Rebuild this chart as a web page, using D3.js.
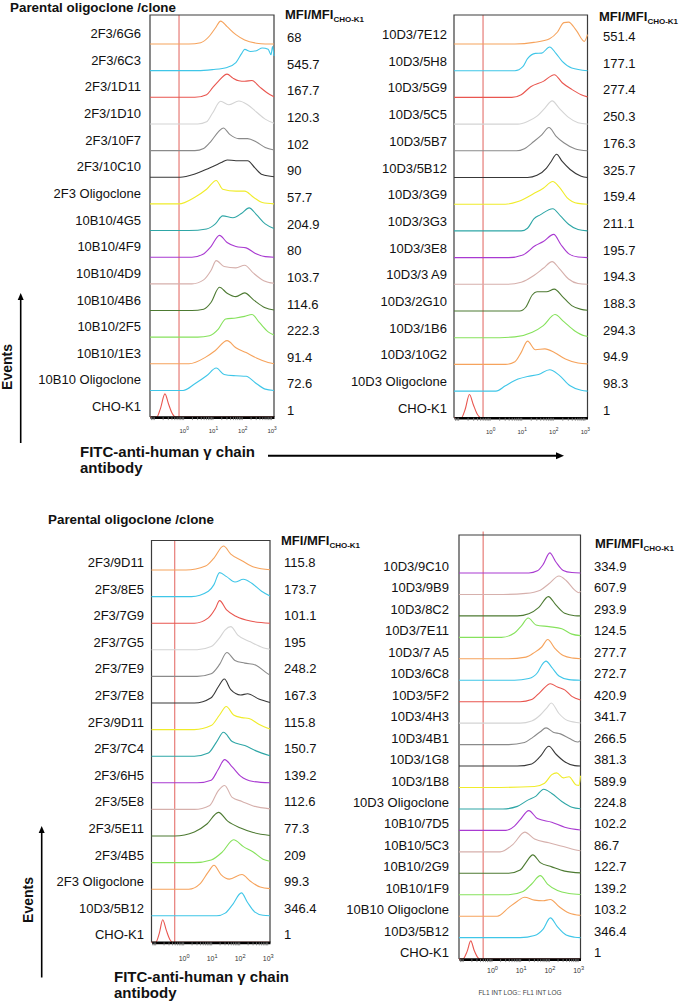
<!DOCTYPE html>
<html><head><meta charset="utf-8">
<script src="https://cdn.jsdelivr.net/npm/d3@7"></script>
<style>body{margin:0;background:#fff}svg{display:block}text{font-family:"Liberation Sans",Arial,sans-serif}</style>
</head><body><svg id="c" width="685" height="1005"></svg>
<script>
// ---------- DATA ----------
// x values are log10(fluorescence), y values are relative event counts
const logDomain = [-1.13, 3.1];
const gateLog = [-0.14, -0.21, -0.30, -0.29];

const labels1 = ["2F3/6G6","2F3/6C3","2F3/1D11","2F3/1D10","2F3/10F7","2F3/10C10","2F3 Oligoclone","10B10/4G5","10B10/4F9","10B10/4D9","10B10/4B6","10B10/2F5","10B10/1E3","10B10 Oligoclone","CHO-K1"];
const mfi1 = [68,545.7,167.7,120.3,102,90,57.7,204.9,80,103.7,114.6,222.3,91.4,72.6,1];
const hist1 = [
[[0.2,0],[0.6,0.05],[0.9,0.3],[1.1,0.6],[1.28,0.86],[1.5,0.65],[1.8,0.35],[2.1,0.15],[2.5,0.03],[2.8,0]],
[[0.5,0],[1.0,0.04],[1.5,0.12],[1.8,0.3],[2.0,0.65],[2.1,0.8],[2.3,0.72],[2.5,0.75],[2.7,0.85],[2.9,0.8],[3.0,0.6],[3.05,0.9],[3.1,0.55]],
[[0.4,0],[0.8,0.1],[1.0,0.35],[1.2,0.6],[1.5,0.87],[1.7,0.72],[1.9,0.62],[2.1,0.6],[2.35,0.63],[2.6,0.4],[2.85,0.18],[3.1,0.02]],
[[0.5,0],[0.8,0.08],[1.0,0.4],[1.28,0.85],[1.55,0.72],[1.9,0.86],[2.2,0.72],[2.5,0.45],[2.8,0.18],[3.1,0.03]],
[[0.4,0],[0.7,0.08],[0.95,0.35],[1.2,0.7],[1.37,0.85],[1.6,0.6],[1.9,0.45],[2.2,0.45],[2.5,0.32],[2.8,0.12],[3.1,0.02]],
[[-0.1,0],[0.4,0.12],[0.9,0.35],[1.3,0.55],[1.5,0.65],[1.8,0.62],[2.2,0.62],[2.45,0.35],[2.7,0.1],[3.1,0.02]],
[[-0.15,0],[0.4,0.25],[0.8,0.55],[1.13,0.88],[1.35,0.55],[1.8,0.48],[2.1,0.48],[2.4,0.25],[2.7,0.05],[3.1,0]],
[[0.2,0],[0.8,0.06],[1.1,0.25],[1.35,0.55],[1.7,0.48],[2.0,0.65],[2.25,0.85],[2.5,0.6],[2.8,0.25],[3.1,0.08]],
[[0.3,0],[0.66,0.1],[0.95,0.4],[1.24,0.82],[1.5,0.55],[1.8,0.4],[2.15,0.35],[2.45,0.15],[2.8,0.02],[3.1,0]],
[[0.3,0],[0.7,0.15],[0.95,0.5],[1.13,0.87],[1.4,0.65],[1.8,0.6],[2.1,0.7],[2.4,0.4],[2.75,0.12],[3.1,0.02]],
[[0.3,0],[0.7,0.05],[0.95,0.3],[1.24,0.87],[1.5,0.65],[1.8,0.52],[2.1,0.66],[2.4,0.4],[2.8,0.1],[3.1,0.02]],
[[0.5,0],[0.9,0.05],[1.2,0.3],[1.45,0.68],[1.8,0.72],[2.1,0.78],[2.35,0.85],[2.6,0.55],[2.9,0.2],[3.1,0.08]],
[[0.2,0],[0.77,0.25],[1.1,0.5],[1.5,0.87],[1.8,0.6],[2.15,0.42],[2.5,0.22],[2.9,0.05],[3.1,0]],
[[0,0],[0.4,0.25],[0.8,0.55],[1.13,0.84],[1.4,0.6],[1.8,0.55],[2.15,0.53],[2.45,0.3],[2.8,0.05],[3.1,0]],
[[-0.9,0],[-0.78,0.3],[-0.62,0.87],[-0.5,0.5],[-0.38,0.15],[-0.25,0]]
];

const labels2 = ["10D3/7E12","10D3/5H8","10D3/5G9","10D3/5C5","10D3/5B7","10D3/5B12","10D3/3G9","10D3/3G3","10D3/3E8","10D3/3 A9","10D3/2G10","10D3/1B6","10D3/10G2","10D3 Oligoclone","CHO-K1"];
const mfi2 = [551.4,177.1,277.4,250.3,176.3,325.7,159.4,211.1,195.7,194.3,188.3,294.3,94.9,98.3,1];
const hist2 = [
[[0.8,0],[1.4,0.06],[1.9,0.2],[2.15,0.45],[2.35,0.8],[2.5,0.82],[2.75,0.5],[3.0,0.1],[3.1,0.35]],
[[0.8,0],[1.05,0.15],[1.2,0.45],[1.45,0.65],[1.65,0.66],[1.9,0.89],[2.1,0.65],[2.3,0.35],[2.6,0.1],[3.1,0]],
[[0.7,0],[1.0,0.1],[1.3,0.4],[1.7,0.6],[2.05,0.85],[2.3,0.55],[2.6,0.3],[2.9,0.1],[3.1,0.02]],
[[0.9,0],[1.2,0.1],[1.5,0.3],[1.75,0.6],[1.98,0.87],[2.2,0.6],[2.5,0.25],[2.8,0.05],[3.1,0]],
[[0.85,0],[1.1,0.08],[1.4,0.35],[1.65,0.6],[1.88,0.87],[2.1,0.55],[2.35,0.3],[2.7,0.08],[3.1,0]],
[[1.2,0],[1.5,0.08],[1.8,0.35],[1.95,0.6],[2.12,0.87],[2.3,0.6],[2.55,0.3],[2.9,0.05],[3.1,0]],
[[0.5,0],[0.9,0.1],[1.4,0.4],[1.7,0.6],[2.0,0.85],[2.2,0.65],[2.45,0.25],[2.8,0.03],[3.1,0]],
[[1.0,0],[1.2,0.1],[1.4,0.45],[1.6,0.6],[2.0,0.83],[2.25,0.55],[2.5,0.25],[2.8,0.05],[3.1,0]],
[[0.6,0],[1.05,0.1],[1.45,0.45],[1.7,0.6],[2.03,0.87],[2.25,0.5],[2.5,0.15],[2.8,0.02],[3.1,0]],
[[0.5,0],[1.0,0.08],[1.4,0.33],[1.7,0.6],[1.98,0.85],[2.2,0.6],[2.5,0.2],[2.8,0.03],[3.1,0]],
[[0.95,0],[1.15,0.15],[1.35,0.6],[1.5,0.72],[1.8,0.72],[2.05,0.82],[2.3,0.55],[2.6,0.2],[2.9,0.06],[3.1,0.03]],
[[0,0],[0.8,0.03],[1.35,0.2],[1.7,0.45],[2.07,0.87],[2.35,0.6],[2.7,0.25],[3.0,0.07],[3.1,0.05]],
[[0.5,0],[0.8,0.1],[1.0,0.45],[1.2,0.87],[1.45,0.55],[1.75,0.58],[2.05,0.45],[2.4,0.2],[2.8,0.05],[3.1,0.02]],
[[0.2,0],[0.5,0.2],[0.9,0.45],[1.2,0.55],[1.55,0.62],[1.9,0.8],[2.2,0.6],[2.55,0.2],[2.9,0.03],[3.1,0]],
[[-0.9,0],[-0.78,0.3],[-0.64,0.87],[-0.52,0.5],[-0.4,0.15],[-0.27,0]]
];

const labels3 = ["2F3/9D11","2F3/8E5","2F3/7G9","2F3/7G5","2F3/7E9","2F3/7E8","2F3/9D11","2F3/7C4","2F3/6H5","2F3/5E8","2F3/5E11","2F3/4B5","2F3 Oligoclone","10D3/5B12","CHO-K1"];
const mfi3 = [115.8,173.7,101.1,195,248.2,167.3,115.8,150.7,139.2,112.6,77.3,209,99.3,346.4,1];
const hist3 = [
[[0.1,0],[0.8,0.15],[1.1,0.45],[1.44,0.9],[1.7,0.6],[2.1,0.35],[2.55,0.1],[3.1,0.01]],
[[0.3,0],[0.9,0.2],[1.1,0.45],[1.3,0.9],[1.55,0.75],[1.85,0.55],[2.15,0.65],[2.45,0.5],[2.8,0.2],[3.1,0.02]],
[[0.4,0],[0.9,0.2],[1.15,0.55],[1.3,0.85],[1.55,0.5],[1.9,0.25],[2.4,0.08],[3.1,0]],
[[0.5,0],[1.0,0.12],[1.3,0.45],[1.5,0.75],[1.7,0.87],[1.95,0.55],[2.4,0.3],[2.85,0.08],[3.1,0.02]],
[[0.5,0],[1.0,0.1],[1.3,0.45],[1.56,0.9],[1.85,0.6],[2.2,0.5],[2.6,0.42],[2.95,0.15],[3.1,0.05]],
[[0.4,0],[1.0,0.2],[1.25,0.6],[1.47,0.9],[1.7,0.5],[2.05,0.3],[2.3,0.35],[2.7,0.15],[3.1,0.02]],
[[0.4,0],[1.0,0.15],[1.3,0.55],[1.54,0.87],[1.8,0.55],[2.1,0.45],[2.35,0.42],[2.7,0.2],[3.1,0.02]],
[[0.4,0],[0.9,0.12],[1.2,0.55],[1.44,0.9],[1.75,0.55],[2.2,0.4],[2.6,0.2],[3.1,0.02]],
[[0.5,0],[1.0,0.1],[1.25,0.5],[1.48,0.87],[1.75,0.6],[2.05,0.25],[2.5,0.05],[3.1,0]],
[[0.4,0],[0.95,0.15],[1.25,0.7],[1.48,0.9],[1.75,0.45],[2.1,0.3],[2.5,0.13],[3.1,0.02]],
[[-0.3,0],[0.4,0.15],[0.85,0.45],[1.26,0.89],[1.6,0.55],[2.05,0.3],[2.5,0.13],[3.1,0.02]],
[[0.4,0],[1.0,0.1],[1.4,0.4],[1.8,0.86],[2.15,0.6],[2.5,0.4],[2.85,0.13],[3.1,0.05]],
[[0.2,0],[0.6,0.2],[0.9,0.65],[1.1,0.9],[1.35,0.55],[1.65,0.38],[2.1,0.55],[2.4,0.3],[2.75,0.08],[3.1,0.02]],
[[1.2,0],[1.5,0.1],[1.75,0.4],[2.08,0.86],[2.3,0.5],[2.55,0.15],[2.85,0.02],[3.1,0]],
[[-0.98,0],[-0.85,0.35],[-0.73,0.85],[-0.6,0.45],[-0.47,0.1],[-0.38,0]]
];

const labels4 = ["10D3/9C10","10D3/9B9","10D3/8C2","10D3/7E11","10D3/7 A5","10D3/6C8","10D3/5F2","10D3/4H3","10D3/4B1","10D3/1G8","10D3/1B8","10D3 Oligoclone","10B10/7D5","10B10/5C3","10B10/2G9","10B10/1F9","10B10 Oligoclone","10D3/5B12","CHO-K1"];
const mfi4 = [334.9,607.9,293.9,124.5,277.7,272.7,420.9,341.7,266.5,381.3,589.9,224.8,102.2,86.7,122.7,139.2,103.2,346.4,1];
const hist4 = [
[[1.3,0],[1.6,0.1],[1.8,0.4],[2.03,0.94],[2.25,0.5],[2.5,0.12],[2.8,0.02],[3.1,0]],
[[0.4,0],[1.2,0.05],[1.7,0.2],[2.0,0.5],[2.35,0.86],[2.6,0.65],[2.9,0.2],[3.05,0.08],[3.1,0.15]],
[[0.9,0],[1.3,0.1],[1.65,0.4],[1.98,0.9],[2.25,0.5],[2.55,0.12],[2.9,0.01],[3.1,0]],
[[0.35,0],[0.8,0.2],[1.05,0.55],[1.28,0.9],[1.55,0.58],[2.0,0.5],[2.45,0.4],[2.8,0.15],[3.1,0.08]],
[[0.5,0],[1.2,0.08],[1.5,0.3],[1.75,0.55],[1.96,0.9],[2.2,0.5],[2.5,0.15],[2.85,0.03],[3.1,0]],
[[0.8,0],[1.3,0.08],[1.6,0.35],[1.75,0.7],[1.9,0.89],[2.1,0.6],[2.35,0.2],[2.7,0.03],[3.1,0]],
[[1.0,0],[1.4,0.1],[1.7,0.45],[2.05,0.84],[2.3,0.68],[2.55,0.55],[2.8,0.25],[3.1,0.08]],
[[1.0,0],[1.4,0.1],[1.7,0.38],[1.95,0.75],[2.08,0.94],[2.35,0.45],[2.65,0.12],[3.1,0.01]],
[[0.6,0],[1.15,0.1],[1.45,0.35],[1.7,0.6],[1.9,0.78],[2.15,0.58],[2.4,0.5],[2.7,0.3],[3.0,0.12],[3.1,0.2]],
[[0.9,0],[1.4,0.1],[1.7,0.45],[2.0,0.92],[2.25,0.55],[2.55,0.2],[2.9,0.02],[3.1,0]],
[[0,0],[1.5,0.05],[1.85,0.2],[2.1,0.6],[2.27,0.68],[2.5,0.45],[2.7,0.5],[2.95,0.12],[3.05,0.1],[3.1,0.55]],
[[0.4,0],[0.9,0.12],[1.25,0.4],[1.55,0.6],[1.82,0.92],[2.1,0.72],[2.45,0.35],[2.8,0.08],[3.1,0.01]],
[[0.5,0],[0.8,0.2],[1.0,0.5],[1.3,0.92],[1.6,0.55],[2.1,0.38],[2.55,0.15],[3.1,0.02]],
[[0.3,0],[0.75,0.35],[1.16,0.92],[1.5,0.6],[2.0,0.42],[2.5,0.25],[2.9,0.1],[3.1,0.05]],
[[0.6,0],[1.0,0.15],[1.2,0.5],[1.44,0.86],[1.7,0.5],[2.1,0.3],[2.55,0.1],[3.1,0.02]],
[[0.6,0],[1.1,0.15],[1.4,0.5],[1.7,0.89],[1.95,0.5],[2.3,0.2],[2.7,0.06],[3.1,0.01]],
[[0.2,0],[0.6,0.4],[0.9,0.7],[1.15,0.88],[1.5,0.75],[1.8,0.72],[2.05,0.78],[2.35,0.45],[2.7,0.15],[3.1,0.04]],
[[1.0,0],[1.5,0.1],[1.8,0.4],[2.05,0.92],[2.3,0.5],[2.6,0.12],[2.9,0.02],[3.1,0]],
[[-1.0,0],[-0.85,0.35],[-0.72,0.85],[-0.6,0.4],[-0.48,0.08],[-0.4,0]]
];
const tickExponents = [0,1,2,3];

// ---------- STYLE ----------
const PALETTE = {or:"#f6a35c", cy:"#3fc6e8", rd:"#e9564f", lg:"#d4d4d4", gy:"#8a8a8a", dk:"#383838",
  ye:"#f0ec2a", te:"#2ea6a6", pu:"#a93ad1", pk:"#d6b0ac", ol:"#4d7a32", gr:"#86e25c"};
const seq15 = ["or","cy","rd","lg","gy","dk","ye","te","pu","pk","ol","gr","or","cy","rd"];
const seq19 = ["pu","pk","ol","gr","or","cy","rd","lg","gy","dk","ye","te","pu","pk","ol","gr","or","cy","rd"];

const svg = d3.select("#c");

const panels = [
 {labels:labels1, mfi:mfi1, hist:hist1, colors:seq15, gate:gateLog[0], left:150, right:274, top:15, base0:44, step:26.65,
  labelX:141, labelDy:-6, mfiX:287, mfiDy:-2, headX:285, headY:18.5, tickDy:16, tickFont:6},
 {labels:labels2, mfi:mfi2, hist:hist2, colors:seq15, gate:gateLog[1], left:454, right:587.5, top:15, base0:44, step:26.7,
  labelX:447, labelDy:-5, mfiX:603, mfiDy:-3, headX:599, headY:20.5, tickDy:16, tickFont:6},
 {labels:labels3, mfi:mfi3, hist:hist3, colors:seq15, gate:gateLog[2], left:151.5, right:270, top:540.5, base0:570, step:26.6,
  labelX:144, labelDy:-3, mfiX:284, mfiDy:-3, headX:281, headY:545, tickDy:19, tickFont:7},
 {labels:labels4, mfi:mfi4, hist:hist4, colors:seq19, gate:gateLog[3], left:459, right:580.5, top:535, gateTop:531.5, base0:573, step:21.45,
  labelX:449, labelDy:-2, mfiX:594, mfiDy:-2, headX:595, headY:548, tickDy:14, tickFont:7}
];

function drawPanel(p) {
  const n = p.labels.length;
  const x = d3.scaleLog().domain([10**logDomain[0], 10**logDomain[1]]).range([p.left, p.right]);
  const base = i => p.base0 + i * p.step;
  const bottom = base(n - 1);
  const g = svg.append("g");

  g.append("line").attr("x1", x(10**p.gate)).attr("x2", x(10**p.gate))
    .attr("y1", p.gateTop ?? p.top).attr("y2", bottom).attr("stroke", "#e2625c").attr("stroke-width", 1);

  g.append("path").attr("d", `M${p.left},${bottom}V${p.top}H${p.right}V${bottom}`)
    .attr("fill", "none").attr("stroke", "#3c3c3c").attr("stroke-width", 1.2);

  p.hist.forEach((pts, i) => {
    const full = [];
    if (pts[0][0] > logDomain[0]) full.push([logDomain[0], 0]);
    full.push(...pts);
    const last = pts[pts.length - 1];
    if (last[0] < logDomain[1]) full.push([logDomain[1], last[1]]);
    const line = d3.line().x(d => x(10**d[0])).y(d => base(i) - d[1] * p.step).curve(d3.curveMonotoneX);
    g.append("path").attr("d", line(full)).attr("fill", "none")
      .attr("stroke", PALETTE[p.colors[i]]).attr("stroke-width", 1.1);

    g.append("text").attr("x", p.labelX).attr("y", base(i) + p.labelDy).attr("text-anchor", "end")
      .attr("font-size", 13).attr("fill", "#111").text(p.labels[i]);
    g.append("text").attr("x", p.mfiX).attr("y", base(i) + p.mfiDy)
      .attr("font-size", 13).attr("fill", "#111").text(String(p.mfi[i]));
  });

  const ticks = x.ticks().filter(v => v >= x.domain()[0] && v <= x.domain()[1]);
  const ax = d3.axisBottom(x).tickValues(ticks).tickSize(3).tickSizeOuter(0).tickFormat("");
  const axg = g.append("g").attr("transform", `translate(0,${bottom})`).call(ax);
  axg.select(".domain").attr("stroke", "#000").attr("stroke-width", 2.6);
  axg.selectAll(".tick line").attr("stroke", "#777").attr("stroke-width", 0.8);

  tickExponents.forEach(k => {
    const t = g.append("text").attr("x", x(10**k) + 1).attr("y", bottom + p.tickDy)
      .attr("text-anchor", "middle").attr("font-size", p.tickFont).attr("fill", "#333");
    t.append("tspan").text("10");
    t.append("tspan").attr("dy", -p.tickFont * 0.5).attr("font-size", p.tickFont * 0.8).text(k);
  });

  const h = g.append("text").attr("x", p.headX).attr("y", p.headY).attr("font-size", 13)
    .attr("font-weight", "bold").attr("fill", "#111");
  h.append("tspan").text("MFI/MFI");
  h.append("tspan").attr("dy", 3).attr("font-size", 8).text("CHO-K1");
}
panels.forEach(drawPanel);

// headers
svg.append("text").attr("x", 10).attr("y", 11.5).attr("font-size", 13.4).attr("font-weight", "bold")
  .attr("fill", "#111").text("Parental oligoclone /clone");
svg.append("text").attr("x", 48).attr("y", 524).attr("font-size", 13.4).attr("font-weight", "bold")
  .attr("fill", "#111").text("Parental oligoclone /clone");

// axis titles and arrows
function arrowV(xp, y0, y1) {
  svg.append("line").attr("x1", xp).attr("x2", xp).attr("y1", y0).attr("y2", y1 + 6)
    .attr("stroke", "#000").attr("stroke-width", 1.6);
  svg.append("path").attr("d", `M${xp},${y1}L${xp - 3},${y1 + 7}L${xp + 3},${y1 + 7}Z`).attr("fill", "#000");
}
arrowV(20.7, 443, 293);
arrowV(41.7, 977.5, 826);
svg.append("line").attr("x1", 268).attr("x2", 558).attr("y1", 455.7).attr("y2", 455.7)
  .attr("stroke", "#000").attr("stroke-width", 2);
svg.append("path").attr("d", "M564,455.7L556,452.2L556,459.2Z").attr("fill", "#000");

svg.append("text").attr("transform", "translate(11.5,367) rotate(-90)").attr("text-anchor", "middle")
  .attr("font-size", 14).attr("font-weight", "bold").attr("fill", "#111").text("Events");
svg.append("text").attr("transform", "translate(33,900) rotate(-90)").attr("text-anchor", "middle")
  .attr("font-size", 14).attr("font-weight", "bold").attr("fill", "#111").text("Events");

function fitc(xp, y) {
  svg.append("text").attr("x", xp).attr("y", y).attr("font-size", 15).attr("font-weight", "bold")
    .attr("fill", "#111").text("FITC-anti-human γ chain");
  svg.append("text").attr("x", xp).attr("y", y + 16).attr("font-size", 15).attr("font-weight", "bold")
    .attr("fill", "#111").text("antibody");
}
fitc(80, 456.5);
fitc(114, 982);

svg.append("text").attr("x", 520).attr("y", 995).attr("text-anchor", "middle").attr("font-size", 6.5)
  .attr("fill", "#444").text("FL1 INT LOG:: FL1 INT LOG");
</script></body></html>
